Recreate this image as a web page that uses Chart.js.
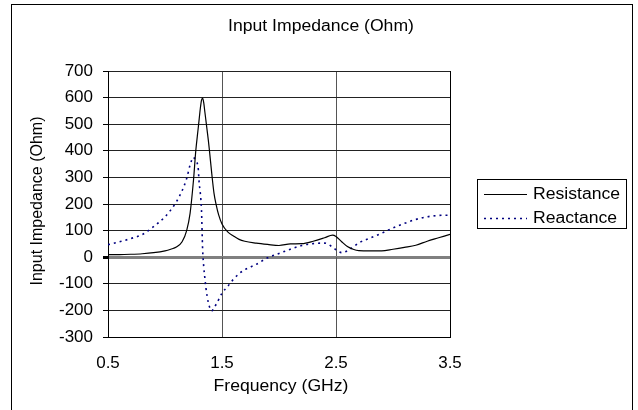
<!DOCTYPE html>
<html>
<head>
<meta charset="utf-8">
<script src="https://cdn.jsdelivr.net/npm/chart.js@4.4.0/dist/chart.umd.min.js"></script>
<style>
  html, body { margin: 0; padding: 0; background: #fff; }
  #wrap { width: 638px; height: 410px; }
</style>
</head>
<body>
<div id="wrap"><canvas id="impedance-chart" width="638" height="410"></canvas></div>
<script>
// values
const freqs = [0.5, 0.6, 0.7, 0.8, 0.9, 1.0, 1.05, 1.1, 1.15, 1.19,
  1.22, 1.25, 1.27, 1.29, 1.3, 1.31, 1.32, 1.33, 1.34, 1.35,
  1.36, 1.37, 1.38, 1.39, 1.41, 1.43, 1.45, 1.47, 1.5, 1.55,
  1.6, 1.65, 1.7, 1.8, 1.9, 2.0, 2.1, 2.2, 2.3, 2.4,
  2.47, 2.5, 2.55, 2.6, 2.65, 2.7, 2.8, 2.9, 3.0, 3.1,
  3.2, 3.3, 3.4, 3.5];
const resistance = [10, 10, 11, 13, 17, 24, 30, 38, 58, 100,
  165, 290, 400, 480, 520, 560, 590, 598, 580, 545,
  510, 475, 440, 400, 315, 240, 195, 160, 125, 95,
  80, 67, 60, 53, 48, 44, 50, 51, 60, 73,
  83, 78, 58, 40, 30, 25, 24, 24, 30, 37,
  45, 60, 73, 86];
const reactance = [47, 58, 70, 85, 115, 152, 177, 208, 250, 296,
  346, 376, 360, 340, 278, 240, 177, 30, -37, -80,
  -118, -148, -170, -186, -202, -190, -176, -160, -135, -110,
  -83, -62, -47, -27, -2, 14, 30, 44, 51, 53,
  38, 28, 17, 24, 38, 54, 72, 90, 110, 127,
  142, 152, 157, 158];
const seriesNames = ["Resistance", "Reactance"];
const xTicks = [0.5, 1.5, 2.5, 3.5];
const yMin = -300, yMax = 700, yStep = 100;

const FONT = "Arial, 'Liberation Sans', sans-serif";
const resColor = "#000000";
const reaColor = "#000080";
const reaDash = [2, 4];

function pts(vals) {
  return freqs.map((f, i) => ({ x: f, y: vals[i] }));
}

// the reference text is a little wider than plain Arial
function wideText(ctx, text, x, y, align) {
  ctx.save();
  ctx.translate(x, y);
  ctx.scale(1.1, 1);
  ctx.textAlign = align;
  ctx.fillText(text, 0, 0);
  ctx.restore();
}

// title, axis titles, legend box and outer frame
const decorations = {
  id: "decorations",
  afterDraw(chart) {
    const ctx = chart.ctx;
    const area = chart.chartArea;
    const xs = chart.scales.x, ys = chart.scales.y;
    ctx.save();

    // outer frame
    ctx.strokeStyle = "#000";
    ctx.lineWidth = 1;
    ctx.strokeRect(11.5, 4.5, 621, 430);

    // small tick marks where the axis crosses zero
    const y0 = ys.getPixelForValue(0);
    ctx.strokeStyle = "#555";
    xTicks.slice(1, -1).forEach((t) => {
      const px = Math.round(xs.getPixelForValue(t)) + 0.5;
      ctx.beginPath();
      ctx.moveTo(px, y0);
      ctx.lineTo(px, y0 + 8);
      ctx.stroke();
    });

    ctx.fillStyle = "#000";
    ctx.font = "16px " + FONT;
    ctx.textBaseline = "middle";
    wideText(ctx, "Input Impedance (Ohm)", 321, 27, "center");
    wideText(ctx, "Frequency (GHz)", (area.left + area.right) / 2 + 2, 387, "center");

    ctx.save();
    ctx.translate(38, 201);
    ctx.rotate(-Math.PI / 2);
    ctx.textAlign = "center";
    ctx.fillText("Input Impedance (Ohm)", 0, 0);
    ctx.restore();

    // legend
    ctx.strokeStyle = "#000";
    ctx.lineWidth = 1;
    ctx.strokeRect(477.5, 179.5, 149, 49);
    const rows = [
      { y: 194, color: resColor, dash: [], width: 1 },
      { y: 218, color: reaColor, dash: reaDash, width: 1.5 },
    ];
    rows.forEach((r, i) => {
      ctx.beginPath();
      ctx.setLineDash(r.dash);
      ctx.strokeStyle = r.color;
      ctx.lineWidth = r.width;
      ctx.moveTo(484, r.y + 0.5);
      ctx.lineTo(527, r.y + 0.5);
      ctx.stroke();
      ctx.setLineDash([]);
      wideText(ctx, seriesNames[i], 533, r.y + 1, "left");
    });
    ctx.restore();
  },
};

new Chart(document.getElementById("impedance-chart"), {
  type: "line",
  data: {
    datasets: [
      {
        label: seriesNames[0],
        data: pts(resistance),
        borderColor: resColor,
        borderWidth: 1.2,
        pointRadius: 0,
        cubicInterpolationMode: "monotone",
        fill: false,
      },
      {
        label: seriesNames[1],
        data: pts(reactance),
        borderColor: reaColor,
        borderWidth: 1.6,
        borderDash: reaDash,
        pointRadius: 0,
        cubicInterpolationMode: "monotone",
        fill: false,
      },
    ],
  },
  options: {
    responsive: false,
    animation: false,
    devicePixelRatio: 1,
    layout: { padding: { left: 0, top: 71, right: 188, bottom: 0 } },
    plugins: { legend: { display: false }, title: { display: false }, tooltip: { enabled: false } },
    scales: {
      x: {
        type: "linear",
        min: 0.5,
        max: 3.5,
        afterBuildTicks: (s) => { s.ticks = xTicks.map((v) => ({ value: v })); },
        afterFit: (s) => { s.height = 73; },
        grid: {
          drawTicks: false,
          color: (c) => (c.tick && (c.tick.value === 0.5 || c.tick.value === 3.5) ? "#000" : "#555"),
          lineWidth: 1,
        },
        border: { display: true, color: "#000", width: 1 },
        ticks: {
          color: "#000",
          font: { size: 17, family: FONT },
          padding: 16,
          maxRotation: 0,
          callback: (v) => v.toFixed(1),
        },
      },
      y: {
        min: yMin,
        max: yMax,
        afterFit: (s) => { s.width = 108; },
        grid: {
          color: (c) => (c.tick && c.tick.value === 0 ? "#808080" : "#222"),
          lineWidth: (c) => (c.tick && c.tick.value === 0 ? 3 : 1),
          tickColor: "#000",
          tickLength: 5,
        },
        border: { display: true, color: "#000", width: 1 },
        ticks: {
          stepSize: yStep,
          color: "#000",
          font: { size: 17, family: FONT },
          padding: 10,
        },
      },
    },
  },
  plugins: [decorations],
});
</script>
</body>
</html>
